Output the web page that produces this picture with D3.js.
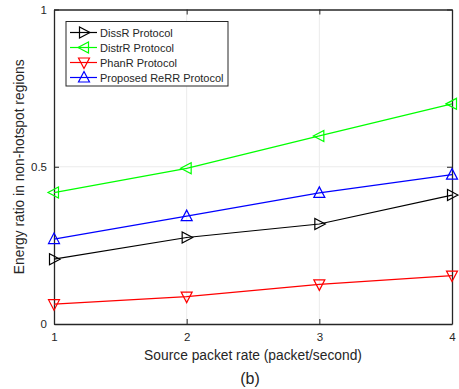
<!DOCTYPE html>
<html>
<head>
<meta charset="utf-8">
<script src="https://cdn.jsdelivr.net/npm/d3@7"></script>
<style>
  html, body { margin: 0; padding: 0; background: #fff; }
  svg text { font-family: Arial, "Liberation Sans", sans-serif; fill: #262626; }
</style>
</head>
<body>
<svg id="chart" width="459" height="389"></svg>
<script>
// Source packet rates on the x axis
const rates = [1, 2, 3, 4];
// Energy ratio per protocol
const dissR = [0.206, 0.275, 0.318, 0.410];
const distrR = [0.418, 0.495, 0.598, 0.700];
const phanR = [0.063, 0.087, 0.126, 0.154];
const reRR = [0.270, 0.343, 0.417, 0.475];
const xTicks = [1, 2, 3, 4];
const yTicks = [0, 0.5, 1];
const yTickLabels = ["0", "0.5", "1"];

const series = [
  { name: "DissR Protocol", values: dissR, color: "#000000", marker: "right" },
  { name: "DistrR Protocol", values: distrR, color: "#00ff00", marker: "left" },
  { name: "PhanR Protocol", values: phanR, color: "#ff0000", marker: "down" },
  { name: "Proposed ReRR Protocol", values: reRR, color: "#0000ff", marker: "up" }
];

const svg = d3.select("#chart");
const L = 54, R = 452, T = 9.5, B = 324;
const x = d3.scaleLinear().domain([1, 4]).range([L, R]);
const y = d3.scaleLinear().domain([0, 1]).range([B, T]);

// grid
const grid = svg.append("g");
grid.selectAll(".gx").data(xTicks.slice(1, -1)).join("line")
  .attr("x1", d => x(d)).attr("x2", d => x(d)).attr("y1", T).attr("y2", B)
  .attr("stroke", "#ebebeb").attr("stroke-width", 1);
grid.selectAll(".gy").data(yTicks.slice(1, -1)).join("line")
  .attr("x1", L).attr("x2", R).attr("y1", d => y(d)).attr("y2", d => y(d))
  .attr("stroke", "#ebebeb").attr("stroke-width", 1);

// axes (ticks inside, mirrored on top/right)
const axisColor = "#262626";
const axBottom = svg.append("g").attr("transform", `translate(0,${B})`)
  .call(d3.axisBottom(x).tickValues(xTicks).tickSizeInner(-5).tickSizeOuter(0).tickPadding(9).tickFormat(d3.format("d")));
const axTop = svg.append("g").attr("transform", `translate(0,${T})`)
  .call(d3.axisTop(x).tickValues(xTicks).tickSizeInner(-5).tickSizeOuter(0).tickFormat(""));
const axLeft = svg.append("g").attr("transform", `translate(${L},0)`)
  .call(d3.axisLeft(y).tickValues(yTicks).tickSizeInner(-5).tickSizeOuter(0).tickPadding(7)
    .tickFormat((d, i) => yTickLabels[i]));
const axRight = svg.append("g").attr("transform", `translate(${R},0)`)
  .call(d3.axisRight(y).tickValues(yTicks).tickSizeInner(-5).tickSizeOuter(0).tickFormat(""));
[axBottom, axTop, axLeft, axRight].forEach(g => {
  g.select(".domain").attr("stroke", axisColor).attr("stroke-width", 1.3);
  g.selectAll(".tick line").attr("stroke", axisColor);
  g.selectAll(".tick text").attr("font-size", 11.5).attr("fill", axisColor)
    .attr("font-family", "Arial, 'Liberation Sans', sans-serif");
});

// triangle markers
function tri(dir, s) {
  const h = s;
  switch (dir) {
    case "up": return `M0,${-h * 0.6}L${h * 0.55},${h * 0.45}L${-h * 0.55},${h * 0.45}Z`;
    case "down": return `M0,${h * 0.6}L${h * 0.55},${-h * 0.45}L${-h * 0.55},${-h * 0.45}Z`;
    case "left": return `M${-h * 0.6},0L${h * 0.45},${h * 0.55}L${h * 0.45},${-h * 0.55}Z`;
    case "right": return `M${h * 0.6},0L${-h * 0.45},${h * 0.55}L${-h * 0.45},${-h * 0.55}Z`;
  }
}

const line = d3.line().x((d, i) => x(rates[i])).y(d => y(d));
series.forEach(s => {
  const g = svg.append("g");
  g.append("path").attr("d", line(s.values)).attr("fill", "none")
    .attr("stroke", s.color).attr("stroke-width", 1.2);
  g.selectAll("path.m").data(s.values).join("path").attr("class", "m")
    .attr("transform", (d, i) => `translate(${x(rates[i])},${y(d)})`)
    .attr("d", tri(s.marker, 10)).attr("fill", "none")
    .attr("stroke", s.color).attr("stroke-width", 1.2);
});

// legend
const lg = svg.append("g");
lg.append("rect").attr("x", 66).attr("y", 21.5).attr("width", 162).attr("height", 64.5)
  .attr("fill", "#fff").attr("stroke", axisColor).attr("stroke-width", 1);
series.forEach((s, i) => {
  const yy = 32.5 + i * 15;
  lg.append("line").attr("x1", 70).attr("x2", 97).attr("y1", yy).attr("y2", yy)
    .attr("stroke", s.color).attr("stroke-width", 1.2);
  lg.append("path").attr("transform", `translate(84,${yy})`).attr("d", tri(s.marker, 10))
    .attr("fill", "none").attr("stroke", s.color).attr("stroke-width", 1.2);
  lg.append("text").attr("x", 100).attr("y", yy + 4).attr("font-size", 11).text(s.name);
});

// axis titles
svg.append("text").attr("x", (L + R) / 2).attr("y", 360).attr("text-anchor", "middle")
  .attr("font-size", 13.8).text("Source packet rate (packet/second)");
svg.append("text").attr("transform", `translate(24,${(T + B) / 2}) rotate(-90)`)
  .attr("text-anchor", "middle").attr("font-size", 13.8).text("Energy ratio in non-hotspot regions");
svg.append("text").attr("x", 250).attr("y", 384).attr("text-anchor", "middle")
  .attr("font-size", 16).attr("fill", "#000").text("(b)");
</script>
</body>
</html>
